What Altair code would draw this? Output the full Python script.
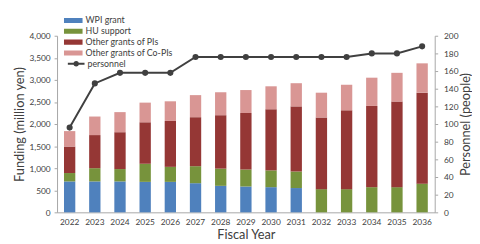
import altair as alt
import pandas as pd

years = [str(y) for y in range(2022, 2037)]
wpi = [700, 700, 700, 690, 690, 660, 600, 585, 570, 550, 0, 0, 0, 0, 0]
hu = [190, 300, 280, 410, 340, 385, 390, 385, 380, 375, 525, 525, 570, 570, 650]
pis = [600, 750, 835, 940, 1040, 1110, 1210, 1280, 1385, 1475, 1625, 1785, 1840, 1940, 2060]
copis = [350, 420, 455, 445, 445, 500, 520, 520, 520, 525, 560, 580, 640, 650, 665]
personnel = [96, 146, 158, 158, 158, 176, 176, 176, 176, 176, 176, 176, 180, 180, 188]

series_names = ["WPI grant", "HU support", "Other grants of PIs", "Other grants of Co-PIs"]
series_colors = ["#4F81BD", "#77933C", "#953735", "#D99694"]

rows = []
for i, y in enumerate(years):
    for k, (name, vals) in enumerate(zip(series_names, [wpi, hu, pis, copis])):
        rows.append({"year": y, "series": name, "value": vals[i], "order": k})
bars_df = pd.DataFrame(rows)
line_df = pd.DataFrame({"year": years, "personnel": personnel, "label": ["personnel"] * len(years)})

FONT = "Lato"
TXT = "#404040"

x_enc = alt.X("year:N", title="Fiscal Year",
              scale=alt.Scale(paddingInner=0.55, paddingOuter=0.275),
              axis=alt.Axis(labelAngle=0, ticks=False, labelPadding=5, titlePadding=3,
                            labelFontSize=8.5, titleFontSize=13, titleFontWeight="normal",
                            domainColor="#A6A6A6", labelColor=TXT, titleColor=TXT))

bars = alt.Chart(bars_df).mark_bar().encode(
    x=x_enc,
    y=alt.Y("value:Q", stack="zero", title="Funding (million yen)",
            scale=alt.Scale(domain=[0, 4000]),
            axis=alt.Axis(values=list(range(0, 4001, 500)), format=",.0f", grid=False,
                          tickSize=3, tickColor="#A6A6A6", domainColor="#A6A6A6",
                          labelFontSize=8.5, labelPadding=4,
                          titleFontSize=13, titleFontWeight="normal",
                          titleX=-38, titleY=90, titleAngle=270,
                          titleAlign="center", titleBaseline="middle",
                          labelColor=TXT, titleColor=TXT)),
    color=alt.Color("series:N", scale=alt.Scale(domain=series_names, range=series_colors),
                    legend=alt.Legend(title=None, orient="none", legendX=7, legendY=-21,
                                      symbolType="M-1,-0.27H1V0.27H-1Z", symbolSize=361,
                                      symbolStrokeWidth=0, labelFontSize=9, labelColor=TXT,
                                      labelOffset=3, clipHeight=11, rowPadding=0, padding=0)),
    order=alt.Order("order:Q", sort="ascending"),
)

line = alt.Chart(line_df).mark_line(
    strokeWidth=2,
    point=alt.OverlayMarkDef(filled=True, size=18, color="#404040"),
).encode(
    x=alt.X("year:N"),
    y=alt.Y("personnel:Q", title="Personnel (people)",
            scale=alt.Scale(domain=[0, 200]),
            axis=alt.Axis(orient="right", values=list(range(0, 201, 20)), grid=False,
                          tickSize=3, tickColor="#A6A6A6", domainColor="#A6A6A6",
                          labelFontSize=8.5, labelPadding=6,
                          titleFontSize=13, titleFontWeight="normal",
                          titleX=31, titleY=90, titleAngle=270,
                          titleAlign="center", titleBaseline="middle",
                          labelColor=TXT, titleColor=TXT)),
    stroke=alt.Stroke("label:N", scale=alt.Scale(domain=["personnel"], range=["#404040"]),
                      legend=alt.Legend(title=None, orient="none", legendX=10, legendY=23,
                                        symbolType="M-1,0H1M0,-0.22A0.22,0.22,0,1,1,0,0.22A0.22,0.22,0,1,1,0,-0.22Z",
                                        symbolSize=289, symbolStrokeWidth=2,
                                        labelFontSize=9, labelColor=TXT, labelOffset=2,
                                        clipHeight=11, padding=0)),
)

chart = alt.layer(bars, line).resolve_scale(
    y="independent", color="independent", stroke="independent"
).properties(
    width=385, height=180,
    autosize=alt.AutoSizeParams(type="none"),
    padding={"left": 50, "top": 26, "right": 38, "bottom": 30},
).configure(font=FONT).configure_view(stroke=None)

chart.save("out.html", embed_options={"renderer": "svg", "actions": False})
